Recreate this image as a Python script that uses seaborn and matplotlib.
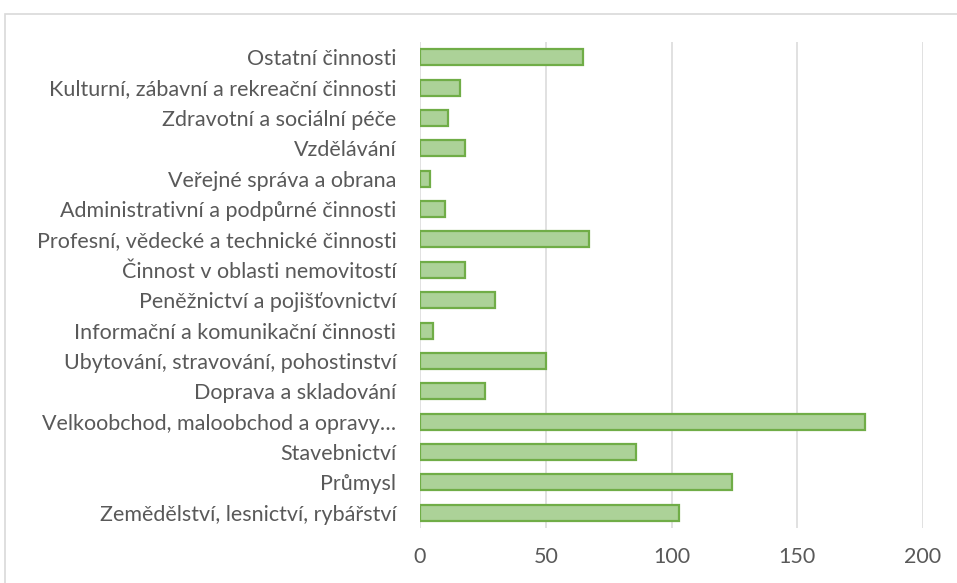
import matplotlib
matplotlib.use("Agg")
import matplotlib.pyplot as plt
import seaborn as sns
import pandas as pd
from matplotlib.patches import Rectangle

categories = [
    "Ostatní činnosti",
    "Kulturní, zábavní a rekreační činnosti",
    "Zdravotní a sociální péče",
    "Vzdělávání",
    "Veřejné správa a obrana",
    "Administrativní a podpůrné činnosti",
    "Profesní, vědecké a technické činnosti",
    "Činnost v oblasti nemovitostí",
    "Peněžnictví a pojišťovnictví",
    "Informační a komunikační činnosti",
    "Ubytování, stravování, pohostinství",
    "Doprava a skladování",
    "Velkoobchod, maloobchod a opravy…",
    "Stavebnictví",
    "Průmysl",
    "Zemědělství, lesnictví, rybářství",
]
values = [65, 16, 11, 18, 4, 10, 67, 18, 30, 5, 50, 26, 177, 86, 124, 103]
xticks = [0, 50, 100, 150, 200]

df = pd.DataFrame({"cat": categories, "val": values})

sns.set_theme(style="white")
plt.rcParams["font.family"] = ["Lato", "DejaVu Sans"]

fig = plt.figure(figsize=(9.57, 5.83), dpi=100)
ax = fig.add_axes([420/957, 1-528/583, (923-420)/957, (528-42)/583])

sns.barplot(data=df, x="val", y="cat", orient="h", ax=ax,
            color="#acd298", edgecolor="#70ad47", linewidth=1.6,
            width=0.53, saturation=1, zorder=3)

ax.set_xlim(0, 200)
ax.set_ylim(15.5, -0.5)
ax.set_xticks(xticks)
ax.set_xticklabels([str(t) for t in xticks])
ax.set_xlabel("")
ax.set_ylabel("")
ax.grid(axis="x", color="#d9d9d9", linewidth=1.1, zorder=0)
for s in ax.spines.values():
    s.set_visible(False)
ax.tick_params(axis="y", length=0, pad=17, labelsize=15.5, labelcolor="#595959")
ax.tick_params(axis="x", length=0, pad=14, labelsize=15.5, labelcolor="#595959")

fig.patches.append(Rectangle((5/957, -0.05), 1.0, 1.05-14/583, transform=fig.transFigure,
                             fill=False, edgecolor="#d9d9d9", linewidth=1.2))

fig.savefig("out.png", dpi=100)
